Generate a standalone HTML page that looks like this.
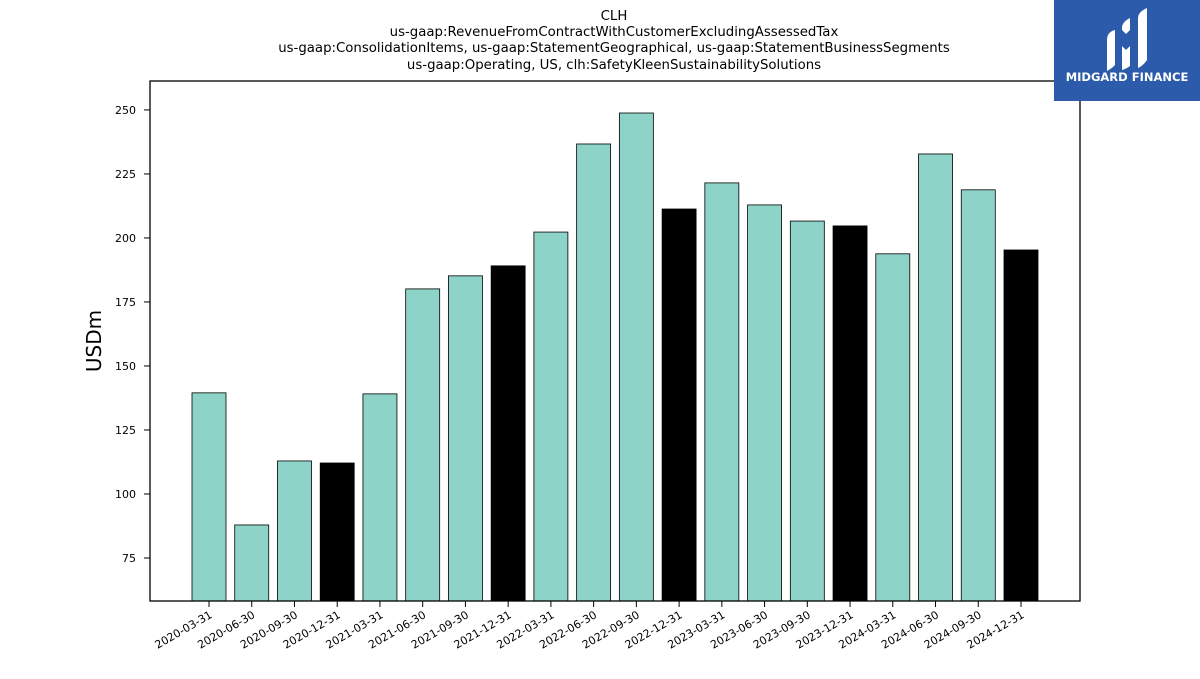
<!DOCTYPE html>
<html><head><meta charset="utf-8"><style>
body{margin:0;background:#fff;width:1200px;height:675px;overflow:hidden;font-family:"DejaVu Sans","Liberation Sans",sans-serif}
</style></head><body>
<svg id="chart" width="1200" height="675" xmlns="http://www.w3.org/2000/svg" font-family="DejaVu Sans, Liberation Sans, sans-serif">
<g font-size="13.3" text-anchor="middle" fill="#000">
<text x="614" y="20">CLH</text>
<text x="614" y="36">us-gaap:RevenueFromContractWithCustomerExcludingAssessedTax</text>
<text x="614" y="52">us-gaap:ConsolidationItems, us-gaap:StatementGeographical, us-gaap:StatementBusinessSegments</text>
<text x="614" y="69">us-gaap:Operating, US, clh:SafetyKleenSustainabilitySolutions</text>
</g>
<g id="bars"></g>
<g id="yaxis"></g>
<g id="xaxis"></g>
<rect x="150" y="81" width="930" height="520" fill="none" stroke="#000" stroke-width="1.3"/>
<text x="101" y="341" font-size="20" text-anchor="middle" transform="rotate(-90 101 341)">USDm</text>
<g>
<rect x="1054" y="0" width="146" height="101" fill="#2c5bab"/>
<path d="M1107 40 q0-8 8-10 v35 q-4 4-8 6z" fill="#fff"/>
<path d="M1122 28 q0-6 8-10 v12 l-4 4 -4-4z M1122 46 l4 4 4-4 v20 q-4 3-8 4z" fill="#fff"/>
<path d="M1138 18 q0-6 9-10 v52 q-4 6-9 8z" fill="#fff"/>
<text x="1127" y="81" font-size="11.5" font-weight="bold" fill="#fff" text-anchor="middle">MIDGARD FINANCE</text>
</g>
</svg>
<script>
const categories=["2020-03-31","2020-06-30","2020-09-30","2020-12-31","2021-03-31","2021-06-30","2021-09-30","2021-12-31","2022-03-31","2022-06-30","2022-09-30","2022-12-31","2023-03-31","2023-06-30","2023-09-30","2023-12-31","2024-03-31","2024-06-30","2024-09-30","2024-12-31"];
const values=[139.5,87.9,112.9,112.1,139.1,180.1,185.2,189.1,202.3,236.7,248.8,211.3,221.5,212.9,206.6,204.7,193.8,232.8,218.8,195.3];
const yTicks=[75,100,125,150,175,200,225,250];
const NS="http://www.w3.org/2000/svg";
const yMin=58.2,yMax=261.3,plotTop=81,plotBottom=601;
function yScale(v){return plotBottom-(v-yMin)/(yMax-yMin)*(plotBottom-plotTop);}
function xScale(i){return 209+i*(1021-209)/(categories.length-1);}
const bw=34;
const bars=document.getElementById('bars');
values.forEach((v,i)=>{
 const r=document.createElementNS(NS,'rect');
 r.setAttribute('x',xScale(i)-bw/2);r.setAttribute('y',yScale(v));
 r.setAttribute('width',bw);r.setAttribute('height',plotBottom-yScale(v));
 r.setAttribute('fill',categories[i].endsWith('12-31')?'#000':'#8dd3c7');
 r.setAttribute('stroke','#000');r.setAttribute('stroke-width','0.8');
 
 
 bars.appendChild(r);
});
const ya=document.getElementById('yaxis');
yTicks.forEach(t=>{
 const l=document.createElementNS(NS,'line');
 l.setAttribute('x1',144);l.setAttribute('x2',150);l.setAttribute('y1',yScale(t));l.setAttribute('y2',yScale(t));l.setAttribute('stroke','#000');
 
 
 ya.appendChild(l);
 const tx=document.createElementNS(NS,'text');
 tx.setAttribute('x',136);tx.setAttribute('y',yScale(t)+4);tx.setAttribute('font-size','11');tx.setAttribute('text-anchor','end');
 tx.textContent=t;
 
 
 ya.appendChild(tx);
});
const xa=document.getElementById('xaxis');
categories.forEach((c,i)=>{
 const l=document.createElementNS(NS,'line');
 l.setAttribute('x1',xScale(i));l.setAttribute('x2',xScale(i));l.setAttribute('y1',601);l.setAttribute('y2',607);l.setAttribute('stroke','#000');
 
 
 xa.appendChild(l);
 const tx=document.createElementNS(NS,'text');
 const px=xScale(i)+4,py=617;
 tx.setAttribute('x',px);tx.setAttribute('y',py);tx.setAttribute('font-size','11');tx.setAttribute('text-anchor','end');
 tx.setAttribute('transform','rotate(-30 '+px+' '+py+')');
 tx.textContent=c;
 
 
 xa.appendChild(tx);
});
</script>
</body></html>
